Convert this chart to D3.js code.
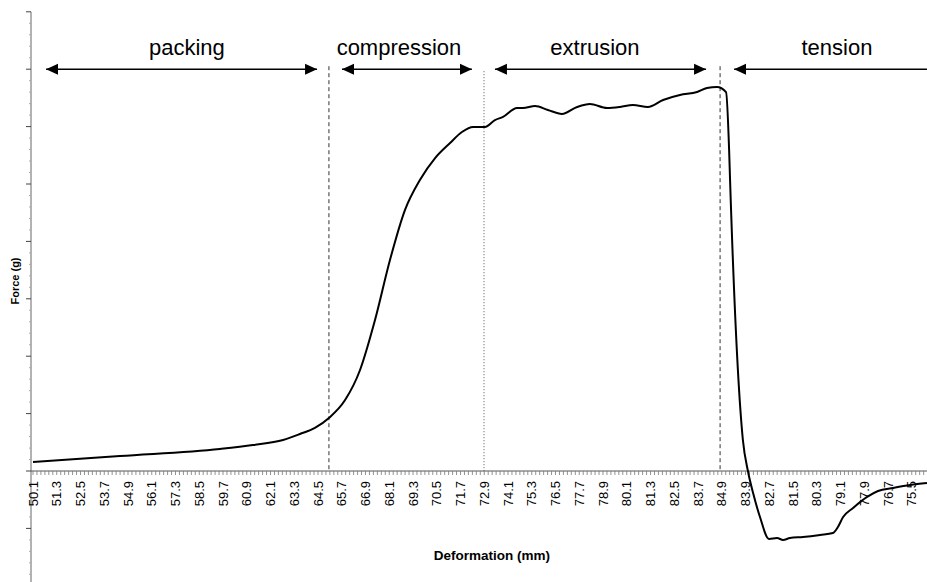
<!DOCTYPE html>
<html>
<head>
<meta charset="utf-8">
<script src="https://cdn.jsdelivr.net/npm/d3@7/dist/d3.min.js"></script>
<style>
  html, body { margin: 0; padding: 0; background: #fff; }
  svg { display: block; }
  text { font-family: "Liberation Sans", Arial, sans-serif; fill: #000; }
</style>
</head>
<body>
<svg id="chart" width="927" height="582"></svg>
<script>
// ---- Data ----
// x-axis category labels (deformation, mm) – probe goes in, then retracts
const xLabels = ["50.1","51.3","52.5","53.7","54.9","56.1","57.3","58.5","59.7","60.9",
  "62.1","63.3","64.5","65.7","66.9","68.1","69.3","70.5","71.7","72.9",
  "74.1","75.3","76.5","77.7","78.9","80.1","81.3","82.5","83.7","84.9",
  "83.9","82.7","81.5","80.3","79.1","77.9","76.7","75.5"];

// curve samples: position along the category axis (in label steps) and force (g)
const curvePos = [0, 3.66, 7.87, 9.26, 10.53, 11.24, 11.87, 12.46, 13.14, 13.77,
  14.4, 15.03, 15.66, 16.29, 16.93, 17.56, 18.06, 18.53, 19.03, 19.45,
  19.79, 20.38, 20.63, 21.14, 21.68, 22.27, 22.91, 23.45, 24.17, 24.72,
  25.26, 25.89, 26.53, 27.24, 27.96, 28.38, 28.8, 29.18, 29.31, 29.35,
  29.89, 30.11, 30.32, 30.61, 30.99, 31.33, 31.58, 31.87, 32.42, 33.14,
  33.68, 33.89, 34.11, 34.53, 35.12, 35.58, 36.21, 36.93, 37.64];
const curveForce = [78, 131, 192, 226, 270, 322, 375, 462, 618, 880,
  1315, 1838, 2273, 2535, 2726, 2857, 2953, 2997, 2997, 3057,
  3084, 3162, 3162, 3179, 3145, 3110, 3171, 3197, 3162, 3171,
  3188, 3171, 3232, 3275, 3301, 3336, 3345, 3301, 2796, 2535,
  270, -9, -192, -401, -592, -584, -601, -584, -575, -557,
  -540, -488, -401, -322, -226, -174, -148, -122, -105];

// phases
const phaseNames = ["packing", "compression", "extrusion", "tension"];
const phaseStart = [0.55, 13.01, 19.45, 29.52];
const phaseEnd   = [11.96, 18.48, 28.34, 37.64];
const phaseLabelPos = [6.48, 15.41, 23.66, 33.85];
const phaseOpenEnd = [false, false, false, true];
const boundaryPos = [12.46, 18.99, 28.93];
const boundaryStyle = ["dash", "dot", "dash"];

const yMin = -1000, yMax = 4000, yMajor = 500, yMinor = 100;
const arrowLevel = 3500;

// ---- Drawing ----
const svg = d3.select("#chart");
const x = d3.scaleLinear().domain([0, 37]).range([33, 911.75]);
const y = d3.scaleLinear().domain([yMin, yMax]).range([585.8, 11.8]);
const xAxisY = y(0);
const yAxisX = 31;

// y axis
svg.append("line").attr("x1", yAxisX).attr("x2", yAxisX).attr("y1", y(yMax)).attr("y2", 582)
  .attr("stroke", "#666").attr("stroke-width", 1);
const majorY = d3.range(-yMajor, yMax + 1, yMajor);
const minorY = d3.range(-900, yMax, yMinor).filter(v => v % yMajor !== 0);
svg.selectAll(".ymaj").data(majorY).join("line")
  .attr("x1", yAxisX - 5).attr("x2", yAxisX).attr("y1", d => y(d)).attr("y2", d => y(d))
  .attr("stroke", "#444").attr("stroke-width", 1);
svg.selectAll(".ymin").data(minorY).join("line")
  .attr("x1", yAxisX - 2).attr("x2", yAxisX).attr("y1", d => y(d)).attr("y2", d => y(d))
  .attr("stroke", "#aaa").attr("stroke-width", 1);

// x axis
const xEnd = 927;
svg.append("line").attr("x1", yAxisX).attr("x2", xEnd).attr("y1", xAxisY).attr("y2", xAxisY)
  .attr("stroke", "#555").attr("stroke-width", 1);
const nMinor = Math.floor(x.invert(xEnd) * 6);
const minorX = d3.range(0, nMinor + 1).map(i => i / 6);
svg.selectAll(".xmin").data(minorX).join("line")
  .attr("x1", d => x(d)).attr("x2", d => x(d)).attr("y1", xAxisY).attr("y2", xAxisY + 4)
  .attr("stroke", "#777").attr("stroke-width", 0.8);

svg.selectAll(".xlab").data(xLabels).join("text")
  .attr("transform", (d, i) => `translate(${x(i) + 4.6},${xAxisY + 10}) rotate(-90)`)
  .attr("text-anchor", "end")
  .style("font-size", "13px")
  .text(d => d);

// axis titles
svg.append("text").attr("x", 492).attr("y", 560).attr("text-anchor", "middle")
  .style("font-size", "13.5px").style("font-weight", "bold").text("Deformation (mm)");
svg.append("text").attr("transform", `translate(19,281) rotate(-90)`).attr("text-anchor", "middle")
  .style("font-size", "11px").style("font-weight", "bold").text("Force (g)");

// phase boundaries
svg.selectAll(".bound").data(boundaryPos).join("line")
  .attr("x1", d => x(d)).attr("x2", d => x(d))
  .attr("y1", (d, i) => boundaryStyle[i] === "dot" ? y(arrowLevel) + 2 : y(arrowLevel) - 3)
  .attr("y2", xAxisY)
  .attr("stroke", (d, i) => boundaryStyle[i] === "dot" ? "#555" : "#333")
  .attr("stroke-width", 1)
  .attr("stroke-dasharray", (d, i) => boundaryStyle[i] === "dot" ? "1,2" : "4,3");

// arrows
const defs = svg.append("defs");
defs.append("marker").attr("id", "ah").attr("viewBox", "0 0 12 12")
  .attr("refX", 12).attr("refY", 6).attr("markerWidth", 12).attr("markerHeight", 12)
  .attr("markerUnits", "userSpaceOnUse").attr("orient", "auto-start-reverse")
  .append("path").attr("d", "M0,0.5 L12,6 L0,11.5 Z").attr("fill", "#000");

phaseNames.forEach((name, i) => {
  svg.append("line")
    .attr("x1", x(phaseStart[i])).attr("x2", Math.min(x(phaseEnd[i]), xEnd))
    .attr("y1", y(arrowLevel)).attr("y2", y(arrowLevel))
    .attr("stroke", "#000").attr("stroke-width", 1.5)
    .attr("marker-start", "url(#ah)")
    .attr("marker-end", phaseOpenEnd[i] ? null : "url(#ah)");
  svg.append("text").attr("x", x(phaseLabelPos[i])).attr("y", 55)
    .attr("text-anchor", "middle").style("font-size", "22px").text(name);
});

// curve
const pts = curvePos.map((p, i) => [p, curveForce[i]]);
const line = d3.line().x(d => x(d[0])).y(d => y(d[1])).curve(d3.curveMonotoneX);
svg.append("path").attr("d", line(pts)).attr("fill", "none")
  .attr("stroke", "#000").attr("stroke-width", 2).attr("stroke-linejoin", "round");
</script>
</body>
</html>
